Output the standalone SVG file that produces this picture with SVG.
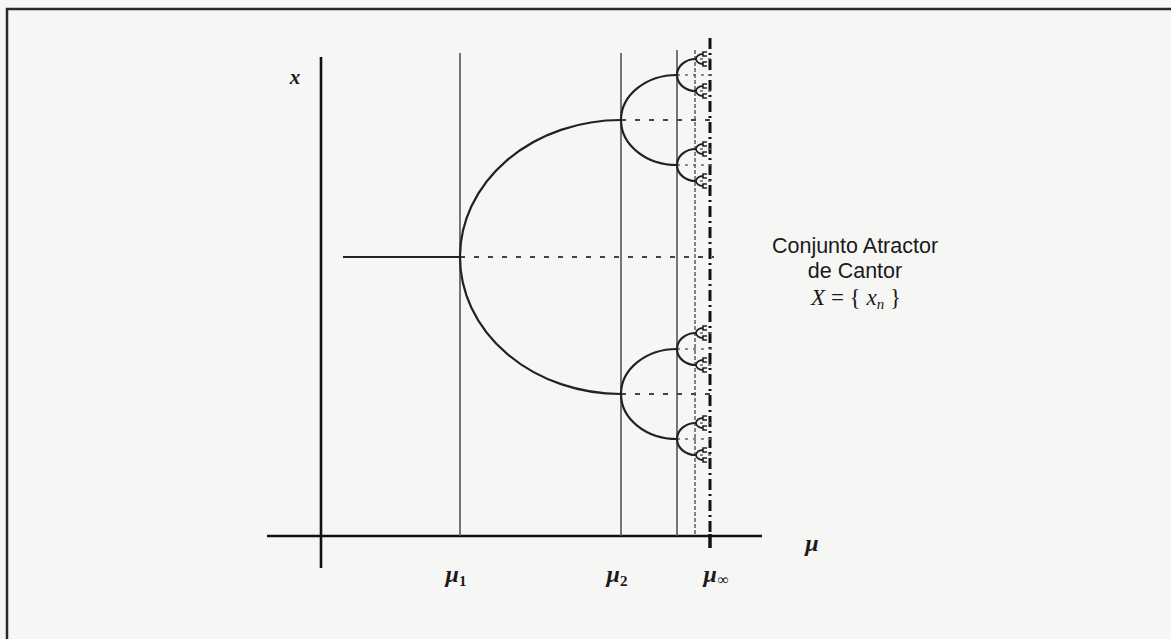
<svg xmlns="http://www.w3.org/2000/svg" width="1171" height="639" viewBox="0 0 1171 639">
<defs>
<style>
.frame{stroke:#2a2a2a;stroke-width:2.5;fill:none}
.axis{stroke:#111;stroke-width:2.6;fill:none}
.vline{stroke:#555;stroke-width:1.6;fill:none}
.vdot{stroke:#666;stroke-width:1.6;fill:none;stroke-dasharray:4 2}
.dashdot{stroke:#111;stroke-width:3;fill:none;stroke-dasharray:11 4 2 4}
.curve{stroke:#222;stroke-width:2.2;fill:none}
.hdash{stroke:#444;stroke-width:2;fill:none;stroke-dasharray:5 9}
.hdot{stroke:#666;stroke-width:1.6;fill:none;stroke-dasharray:3 5}
.math{font-family:"Liberation Serif","Times New Roman",serif;font-style:italic;font-weight:bold;fill:#1a1a1a}
.set{font-family:"Liberation Serif","Times New Roman",serif;font-style:italic;font-weight:normal;fill:#1a1a1a}
.lbl{font-family:"Liberation Sans",Arial,sans-serif;fill:#1a1a1a;font-size:21.5px;text-anchor:middle}
</style>
</defs>
<rect x="0" y="0" width="1171" height="639" fill="#f6f6f5"/>
<g id="frame">
<path class="frame" d="M7,639 V9 H1171"/>
</g>
<g id="axes">
<line class="axis" x1="321" y1="57" x2="321" y2="568"/>
<line class="axis" x1="267" y1="536" x2="762" y2="536"/>
</g>
<g id="parameter-lines">
<line class="vline" x1="460" y1="53" x2="460" y2="536"/>
<line class="vline" x1="621" y1="53" x2="621" y2="536"/>
<line class="vline" x1="677" y1="50" x2="677" y2="536"/>
<line class="vdot" x1="695" y1="50" x2="695" y2="536"/>
<line class="dashdot" x1="710" y1="38" x2="710" y2="536"/>
<line class="axis" x1="710" y1="534" x2="710" y2="548" style="stroke-width:3.5"/>
</g>
<g id="connectors">
<path class="hdash" d="M460,257 H714 M621,120 H714 M621,394 H714"/>
<path class="hdot" d="M677,75 H716 M677,165 H716 M677,349 H716 M677,439 H716"/>
<path class="hdot" d="M700,59 H716 M700,91 H716 M700,149 H716 M700,181 H716 M700,333 H716 M700,365 H716 M700,423 H716 M700,455 H716"/>
</g>
<g id="bifurcation-tree">
<path class="curve" d="M343,257 H460"/>
<path class="curve" d="M460,257 A161,137 0 0 1 621,120 M460,257 A161,137 0 0 0 621,394"/>
<path class="curve" d="M621,120 A56,45 0 0 1 677,75 M621,120 A56,45 0 0 0 677,165 M621,394 A56,45 0 0 1 677,349 M621,394 A56,45 0 0 0 677,439"/>
<path class="curve" d="M677,75 A19,16 0 0 1 696,59 M677,75 A19,16 0 0 0 696,91 M677,165 A19,16 0 0 1 696,149 M677,165 A19,16 0 0 0 696,181 M677,349 A19,16 0 0 1 696,333 M677,349 A19,16 0 0 0 696,365 M677,439 A19,16 0 0 1 696,423 M677,439 A19,16 0 0 0 696,455"/>
<path class="curve" style="stroke-width:1.9" d="M696,59 A7,5 0 0 1 703,54 M696,59 A7,5 0 0 0 703,64 M696,91 A7,5 0 0 1 703,86 M696,91 A7,5 0 0 0 703,96 M696,149 A7,5 0 0 1 703,144 M696,149 A7,5 0 0 0 703,154 M696,181 A7,5 0 0 1 703,176 M696,181 A7,5 0 0 0 703,186 M696,333 A7,5 0 0 1 703,328 M696,333 A7,5 0 0 0 703,338 M696,365 A7,5 0 0 1 703,360 M696,365 A7,5 0 0 0 703,370 M696,423 A7,5 0 0 1 703,418 M696,423 A7,5 0 0 0 703,428 M696,455 A7,5 0 0 1 703,450 M696,455 A7,5 0 0 0 703,460"/>
<path class="curve" style="stroke-width:1.6" d="M703,54 v-2 h4 M703,54 v2 h4 M703,64 v-2 h4 M703,64 v2 h4 M703,86 v-2 h4 M703,86 v2 h4 M703,96 v-2 h4 M703,96 v2 h4 M703,144 v-2 h4 M703,144 v2 h4 M703,154 v-2 h4 M703,154 v2 h4 M703,176 v-2 h4 M703,176 v2 h4 M703,186 v-2 h4 M703,186 v2 h4 M703,328 v-2 h4 M703,328 v2 h4 M703,338 v-2 h4 M703,338 v2 h4 M703,360 v-2 h4 M703,360 v2 h4 M703,370 v-2 h4 M703,370 v2 h4 M703,418 v-2 h4 M703,418 v2 h4 M703,428 v-2 h4 M703,428 v2 h4 M703,450 v-2 h4 M703,450 v2 h4 M703,460 v-2 h4 M703,460 v2 h4"/>
</g>
<g id="label-x"><text class="math" x="295" y="84" font-size="21" text-anchor="middle">x</text></g>
<g id="label-mu"><text class="math" x="812" y="551" font-size="24" text-anchor="middle">μ</text></g>
<g id="label-mu1"><text class="math" x="456" y="582" font-size="24" text-anchor="middle">μ<tspan font-size="15" dy="4" font-style="normal">1</tspan></text></g>
<g id="label-mu2"><text class="math" x="617" y="582" font-size="24" text-anchor="middle">μ<tspan font-size="15" dy="4" font-style="normal">2</tspan></text></g>
<g id="label-muinf"><text class="math" x="716" y="582" font-size="24" text-anchor="middle">μ<tspan font-size="16" dy="3">∞</tspan></text></g>
<g id="label-cantor">
<text class="lbl" x="855" y="253">Conjunto Atractor</text>
<text class="lbl" x="855" y="278">de Cantor</text>
<text class="set" x="856" y="305" font-size="23" text-anchor="middle">X<tspan font-style="normal"> = { </tspan>x<tspan font-size="15" dy="4">n</tspan><tspan font-style="normal" dy="-4"> }</tspan></text>
</g>
</svg>
